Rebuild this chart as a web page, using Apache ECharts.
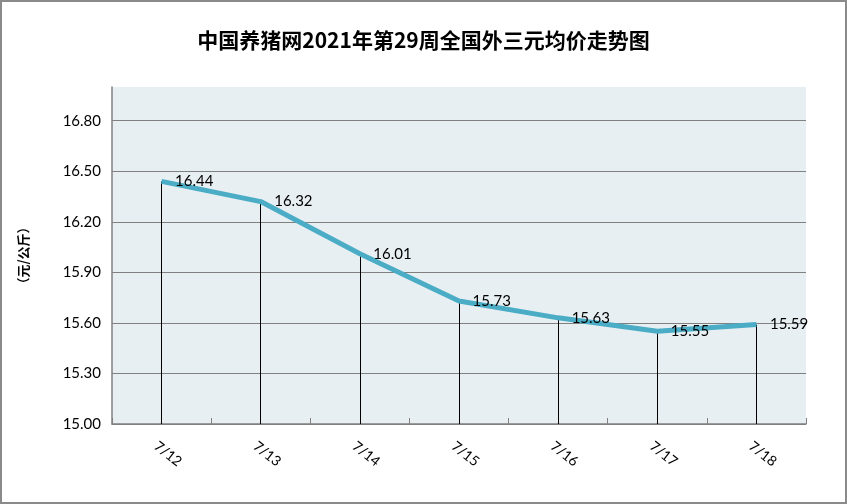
<!DOCTYPE html>
<html>
<head>
<meta charset="utf-8">
<script src="https://cdn.jsdelivr.net/npm/echarts@6/dist/echarts.min.js"></script>
<style>
html, body { margin: 0; padding: 0; background: #fff; }
#main { width: 847px; height: 504px; }
</style>
</head>
<body>
<div id="main"></div>
<script>
// 数据
const days = ['7/12', '7/13', '7/14', '7/15', '7/16', '7/17', '7/18'];
const prices = [16.44, 16.32, 16.01, 15.73, 15.63, 15.55, 15.59];
const yMin = 15.0;
const yMax = 17.0;
const yStep = 0.3;

const chart = echarts.init(document.getElementById('main'));

// 每个点往下的竖线
const dropLines = prices.map((v, i) => [
    { coord: [i, yMin] },
    { coord: [i, v] }
]);

chart.setOption({
    backgroundColor: '#fff',
    title: {
        text: '中国养猪网2021年第29周全国外三元均价走势图',
        left: 'center',
        top: 25,
        textStyle: {
            fontFamily: 'Noto Sans CJK SC',
            fontSize: 21,
            fontWeight: 'bold',
            color: '#000'
        }
    },
    graphic: [{
        type: 'rect',
        shape: { x: 1, y: 1, width: 845, height: 502 },
        style: { fill: null, stroke: '#8a8a8a', lineWidth: 2 },
        silent: true
    }],
    grid: {
        left: 112,
        right: 41,
        top: 87,
        bottom: 80,
        show: true,
        backgroundColor: '#e8eff3',
        borderWidth: 0
    },
    xAxis: {
        type: 'category',
        data: days,
        boundaryGap: true,
        axisLine: { lineStyle: { color: '#808080', width: 1.5 } },
        axisTick: { show: true, inside: true, length: 6, lineStyle: { color: '#808080' } },
        axisLabel: {
            rotate: -38,
            align: 'center',
            margin: 25,
            padding: [0, 0, 0, 16],
            fontFamily: 'Lato',
            fontSize: 14,
            color: '#000'
        }
    },
    yAxis: {
        type: 'value',
        min: yMin,
        max: yMax,
        interval: yStep,
        name: '（元/公斤）',
        nameLocation: 'middle',
        nameRotate: 90,
        nameGap: 82,
        nameTextStyle: { fontFamily: 'Noto Sans CJK SC', fontSize: 13, fontWeight: 'bold', color: '#000' },
        axisLine: { show: true, lineStyle: { color: '#808080', width: 1.5 } },
        axisTick: { show: false },
        axisLabel: {
            margin: 11,
            fontFamily: 'Lato',
            fontSize: 15,
            color: '#000',
            showMaxLabel: false,
            formatter: v => v.toFixed(2)
        },
        splitLine: { show: true, showMaxLine: false, lineStyle: { color: '#808080', width: 1 } }
    },
    series: [{
        type: 'line',
        data: prices,
        symbol: 'circle',
        symbolSize: 1,
        showSymbol: true,
        itemStyle: { color: '#4bacc6' },
        lineStyle: { color: '#4bacc6', width: 5 },
        label: {
            show: true,
            position: 'right',
            distance: 13,
            fontFamily: 'Lato',
            fontSize: 15,
            color: '#000',
            formatter: p => p.value.toFixed(2)
        },
        markLine: {
            silent: true,
            symbol: 'none',
            label: { show: false },
            lineStyle: { color: '#000', width: 1, type: 'solid' },
            data: dropLines,
            z: 1
        },
        z: 3
    }]
});
</script>
</body>
</html>
